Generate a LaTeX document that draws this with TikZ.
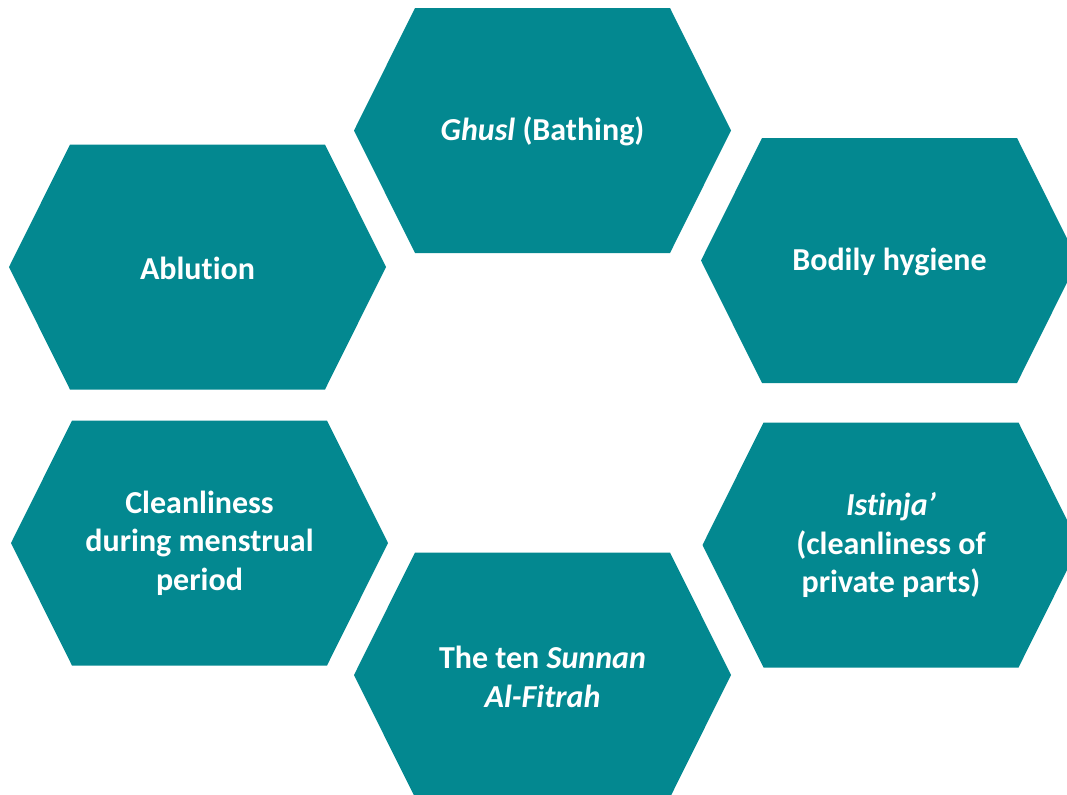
\documentclass[tikz,border=0pt]{standalone}
\usepackage{fontspec}
\setmainfont[Ligatures=NoCommon]{Carlito}
\usepackage{tikz}
\usetikzlibrary{backgrounds}
\definecolor{hexteal}{RGB}{3,136,144}
\tikzset{hex/.style={fill=hexteal}}
\tikzset{l/.style={font=\fontsize{24}{28.75}\selectfont\bfseries,text=white,align=center}}

\begin{document}
\begin{tikzpicture}[x=0.75pt,y=-0.75pt]
        \useasboundingbox (0,0) rectangle (1067,794);
        \begin{scope}
          \clip (0,0) rectangle (1067,794);
          \foreach \cx/\cy in {542.5/130.5, 197.5/267, 889.5/260.5, 199.5/543, 891/545, 542.5/675}
            \fill[hex] (\cx-188.5,\cy) -- ++(61,-122.5) -- ++(255,0) -- ++(61,122.5)
              -- ++(-61,122.5) -- ++(-255,0) -- cycle;
        \end{scope}
        \node[l] (ghusl) at (542.5,131) {\textit{Ghusl} (Bathing)};
        \node[l] (ablution) at (197.5,268) {Ablution};
        \node[l] (hygiene) at (889.5,262) {Bodily hygiene};
        \node[l] (menstrual) at (199.5,543) {Cleanliness\\during menstrual\\period};
        \node[l] (istinja) at (891,545) {\textit{Istinja’}\\(cleanliness of\\private parts)};
        \node[l] (fitrah) at (542.5,677) {The ten \textit{Sunnan}\\\textit{Al-Fitrah}};
      \end{tikzpicture}
\end{document}
